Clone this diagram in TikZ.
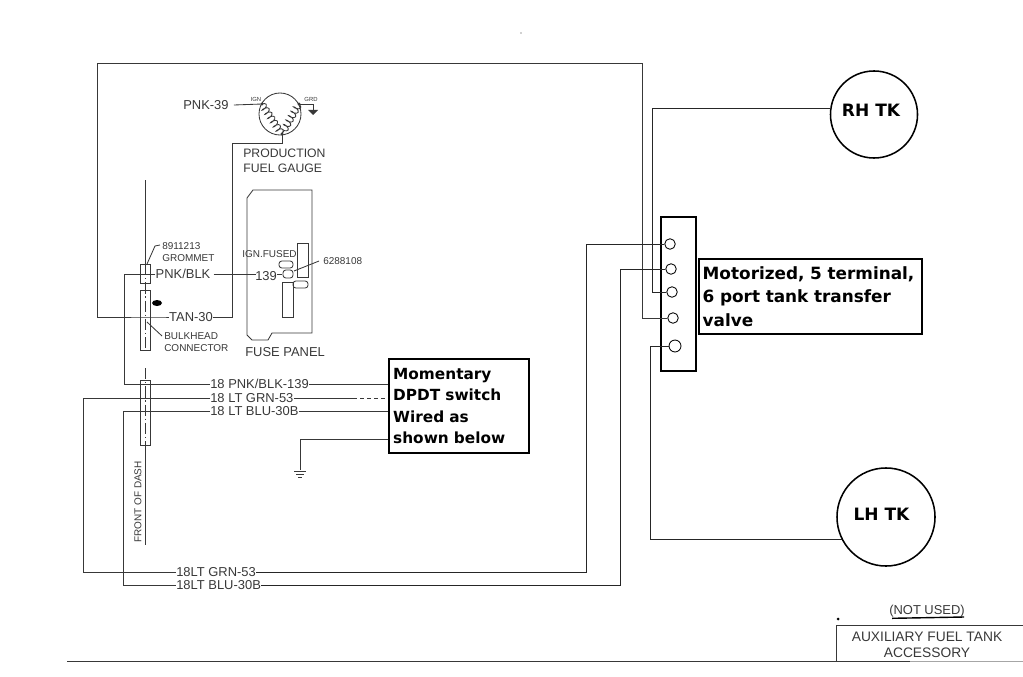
\documentclass[tikz,border=0pt]{standalone}
\usepackage{fontspec}
\usepackage{xcolor}
\setmainfont{Liberation Sans}
\newfontfamily\labelfont{DejaVu Sans}
\usetikzlibrary{decorations.pathmorphing}

\colorlet{inkgrey}{black!78}
\tikzset{
  wire/.style={draw=inkgrey, line width=0.6pt},
  newwire/.style={draw=black!85, line width=0.65pt},
  oldtext/.style={inner sep=0pt, text=inkgrey, font=\fontsize{9.2}{11}\selectfont},
  smalltext/.style={oldtext, font=\fontsize{7.1}{8}\selectfont, align=left},
  tinytext/.style={oldtext, font=\fontsize{4.2}{5}\selectfont},
  boldbox/.style={draw=black, line width=1.7pt, inner sep=2pt, align=left, anchor=north west,
    font=\labelfont\bfseries\fontsize{10.9}{15.3}\selectfont},
  terminal/.style={draw=black, circle, line width=0.6pt, inner sep=0pt, minimum size=7.5pt},
  tank/.style={draw=black, circle, line width=1.1pt, inner sep=0pt},
  tanktext/.style={inner sep=0pt, font=\labelfont\bfseries\fontsize{12.1}{14}\selectfont},
  sleeve/.style={draw=inkgrey, line width=0.6pt, inner sep=0pt, minimum width=0.25cm, anchor=north}
}

\begin{document}
\begin{tikzpicture}[x=0.025cm,y=-0.025cm]
  \useasboundingbox (0,0) rectangle (1023,676);

  % Tanks and valve
  \node[tank, minimum size=2.175cm] (rhtk) at (874,114.5) {};
  \node[tanktext] (rhtext) at (871,110) {RH TK};
  \node[tank, minimum size=2.45cm] (lhtk) at (886,517) {};
  \node[tanktext] (lhtext) at (881.5,514) {LH TK};
  \node[draw=black, line width=1.4pt, minimum width=0.875cm, minimum height=3.85cm, inner sep=0pt, anchor=north west] (valve) at (660,216) {};
  \node[terminal] (term1) at (670,244) {};
  \node[terminal] (term2) at (671,269) {};
  \node[terminal] (term3) at (672,292) {};
  \node[terminal] (term4) at (673,318) {};
  \node[terminal, minimum size=8.5pt] (term5) at (675,346) {};
  \node[boldbox, minimum width=5.575cm, minimum height=1.875cm, text width=5.4cm,
    font=\labelfont\bfseries\fontsize{12}{16.4}\selectfont] (valvetext) at (698,258) {Motorized, 5 terminal,\\6 port tank transfer\\valve};
  \node[boldbox, minimum width=3.5cm, minimum height=2.35cm, text width=3.3cm] (switch) at (388,358) {Momentary\\DPDT switch\\Wired as\\shown below};

  % Wire labels
  \node[oldtext, anchor=west] (pnkthirtynine) at (183,105) {PNK-39};
  \node[tinytext] (ign) at (256,99) {IGN};
  \node[tinytext] (grd) at (311,99) {GRD};
  \node[oldtext, font=\fontsize{8.7}{10.2}\selectfont, align=left, anchor=north west] (gauge) at (243,149) {PRODUCTION\\FUEL GAUGE};
  \node[smalltext, anchor=west] (grommet) at (162,252) {8911213\\GROMMET};
  \node[oldtext, anchor=center] (pnkblk) at (183,274) {PNK/BLK};
  \node[oldtext, anchor=center] (tan) at (191,317) {TAN-30};
  \node[smalltext, anchor=west] (bulkhead) at (164,342) {BULKHEAD\\CONNECTOR};
  \node[smalltext, anchor=west] (ignfused) at (242,254) {IGN.FUSED};
  \node[oldtext, anchor=west] (oneninethree) at (255,276) {139};
  \node[smalltext, anchor=west] (partno) at (323,261) {6288108};
  \node[oldtext, anchor=west] (fuse) at (245,352) {FUSE PANEL};
  \node[oldtext, anchor=west] (pnkrow) at (210,384) {18 PNK/BLK-139};
  \node[oldtext, anchor=west] (grnrow) at (210,398) {18 LT GRN-53};
  \node[oldtext, anchor=west] (blurow) at (210,411) {18 LT BLU-30B};
  \node[oldtext, anchor=west] (grnlow) at (176,572) {18LT GRN-53};
  \node[oldtext, anchor=west] (blulow) at (176,585) {18LT BLU-30B};
  \node[smalltext, rotate=90, anchor=center] (dash) at (138,502) {FRONT OF DASH};

  % Gauge
  \node[draw=inkgrey, circle, line width=0.6pt, inner sep=0pt, minimum size=1.05cm] (dial) at (280,114) {};
  \coordinate (ignpt) at (262,104);
  \coordinate (grdpt) at (299,104);
  \coordinate (coilpt) at (282,134);
  \draw[wire, decorate, decoration={coil, aspect=0.4, segment length=3.6pt, amplitude=2.4pt}] (ignpt) -- (coilpt);
  \draw[wire, decorate, decoration={coil, aspect=0.4, segment length=3.6pt, amplitude=2.4pt}] (grdpt) -- (coilpt);
  \fill[inkgrey] (ignpt) circle (1.6) (grdpt) circle (1.6) (coilpt) circle (1.6);
  \draw[wire] (pnkthirtynine.east) ++(5,0) -- (ignpt);
  \draw[wire] (grdpt) -- (313,104) -- (313,110);
  \fill[inkgrey] (308,110) -- (318,110) -- (313,115) -- cycle;

  % Fuse panel
  \draw[wire] (253,190) -- (312,190) -- (312,333) -- (272,333) -- (268,340) -- (252,340) -- (247,335) -- (247,198) -- cycle;
  \draw[wire] (297,243) rectangle (308,277);
  \draw[wire] (282,282) rectangle (293,317);
  \draw[wire, rounded corners=2pt] (279,261) rectangle (293,268);
  \draw[wire, rounded corners=2pt] (283,270) rectangle (293,278);
  \draw[wire, rounded corners=2pt] (293,281) rectangle (308,288);
  \draw[wire] (partno.west) ++(-4,0) -- (294,271);

  % Sleeves
  \node[sleeve, minimum height=0.475cm] (gromsleeve) at (145,264) {};
  \node[sleeve, minimum height=1.5cm] (bulksleeve) at (145,290) {};
  \node[sleeve, minimum height=1.625cm] (dashsleeve) at (145,380) {};
  \draw[wire] (145,180) -- (gromsleeve.north);
  \draw[wire, dash pattern=on 8pt off 2pt on 1pt off 2pt] (gromsleeve.north) -- (bulksleeve.south);
  \draw[wire, dash pattern=on 8pt off 2pt on 1pt off 2pt] (145,368) -- (dashsleeve.south);
  \draw[wire] (dashsleeve.south) -- (145,545);
  \draw[wire] (147,264) -- (155,246) -- (160,245);
  \draw[wire] (147,322) -- (162,336);
  \fill[black] (157,303) ellipse (5 and 3);

  % Old wiring
  \coordinate (topleft) at (97,63);
  \coordinate (topright) at (642,63);
  \draw[wire] (tan.west) -- ++(-5,0) -| (topleft) -- (topright) |- (term4.west);
  \draw[wire] (tan.east) -- (232,317) -- (232,143) -- (282,143) -- (coilpt);
  \draw[wire] (pnkblk.east) ++(3,0) -- (256,274);
  \draw[wire] (oneninethree.east) ++(0,-2) -- (282,274);
  \draw[wire] (pnkblk.west) -- (124,274) |- (pnkrow.west);
  \draw[wire] (pnkrow.east) -- (switch.west |- pnkrow);
  \draw[wire] (grnrow.west) -| (83,572) -- (grnlow.west);
  \draw[wire] (grnrow.east) -- (353,398);
  \draw[wire, densely dashed] (353,398) -- (switch.west |- grnrow);
  \draw[wire] (blurow.west) -| (123,585) -- (blulow.west);
  \draw[wire] (blurow.east) -- (switch.west |- blurow);

  % Ground from switch
  \coordinate (gndpt) at (300,439);
  \draw[wire] (switch.west |- gndpt) -- (gndpt) -- (300,470);
  \draw[wire] (294,471) -- (306,471) (296,474) -- (304,474) (298,477) -- (302,477);

  % New wiring
  \coordinate (rhend) at (832,108);
  \coordinate (lhend) at (842,539);
  \draw[newwire] (grnlow.east) -- (586,572) |- (term1.west);
  \draw[newwire] (blulow.east) -- (620,585) |- (term2.west);
  \draw[newwire] (rhend) -- (652,108) |- (term3.west);
  \draw[newwire] (lhend) -- (650,539) |- (term5.west);

  % Title block
  \node[oldtext, anchor=west] (notused) at (889,611) {(NOT USED)};
  \draw[black, line width=1pt] (notused.south west) ++(3,1) -- (964,617);
  \coordinate (blockcorner) at (836,625);
  \draw[wire] (1023,625) -- (blockcorner) -- (836,661);
  \draw[wire] (67,661) -- (910,661);
  \draw[draw=black!35, line width=0.5pt] (910,661) -- (1023,661);
  \node[oldtext, font=\fontsize{9.8}{11}\selectfont, align=center] (block) at (927,645) {AUXILIARY FUEL TANK\\ACCESSORY};
  \fill[black] (838,619) circle (1.5);
  \fill[inkgrey] (521,33) circle (0.6);
\end{tikzpicture}
\end{document}
